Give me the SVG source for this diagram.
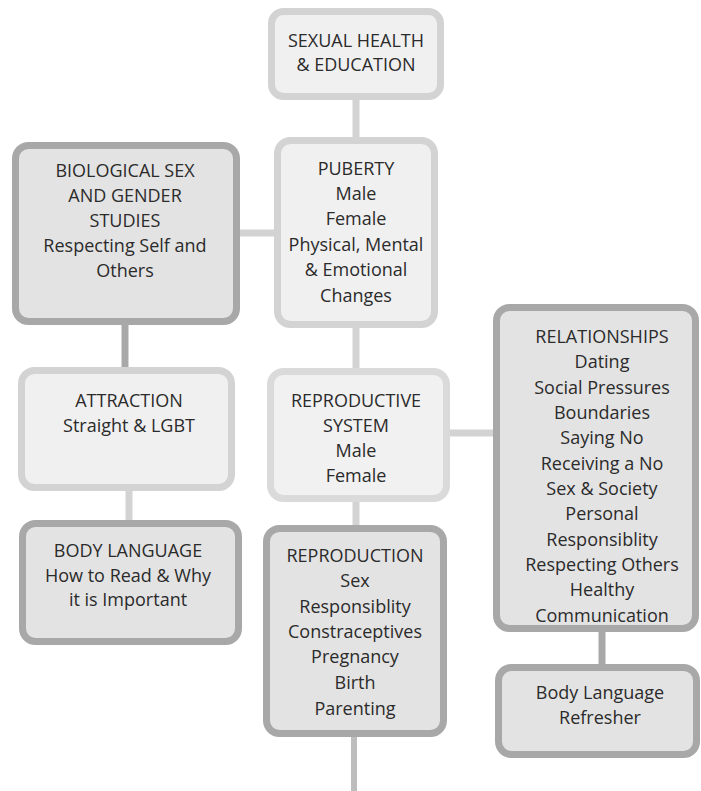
<svg xmlns="http://www.w3.org/2000/svg" width="701" height="791" viewBox="0 0 701 791">
<style>
.light{fill:#f0f0f0;stroke:#d3d3d3;stroke-width:7}
.lighter{fill:#f1f1f1;stroke:#dadada;stroke-width:7}
.dark{fill:#e3e3e3;stroke:#a8a8a8;stroke-width:7}
.cl{stroke:#d3d3d3;stroke-width:7;fill:none}
.cd{stroke:#a8a8a8;stroke-width:7;fill:none}
.cm{stroke:#bdbdbd;stroke-width:6;fill:none}
text{font-family:"Open Sans","Noto Sans","DejaVu Sans",sans-serif;font-size:18px;fill:#2b2b2b;text-anchor:middle}
</style>
<rect width="701" height="791" fill="#ffffff"/>
<g id="connectors">
<line class="cl" x1="356" y1="98" x2="356" y2="140"/>
<line class="cl" x1="238" y1="233" x2="277" y2="233"/>
<line class="cd" x1="125" y1="323" x2="125" y2="370"/>
<line class="cl" x1="356" y1="326" x2="356" y2="371"/>
<line class="cl" x1="129" y1="489" x2="129" y2="523"/>
<line class="cl" x1="356" y1="500" x2="356" y2="528"/>
<line class="cl" x1="448" y1="433" x2="496" y2="433"/>
<line class="cd" x1="602" y1="630" x2="602" y2="667"/>
<line class="cm" x1="354" y1="735" x2="354" y2="791"/>
</g>
<g id="n_top">
<rect class="light" x="271.5" y="11.5" width="169" height="85" rx="12"/>
<text x="356" y="47">SEXUAL HEALTH</text>
<text x="356" y="71">&amp; EDUCATION</text>
</g>
<g id="n_bio">
<rect class="dark" x="15.5" y="145.5" width="221" height="176" rx="13"/>
<text x="125" y="177">BIOLOGICAL SEX</text>
<text x="125" y="202">AND GENDER</text>
<text x="125" y="227">STUDIES</text>
<text x="125" y="252">Respecting Self and</text>
<text x="125" y="277">Others</text>
</g>
<g id="n_puberty">
<rect class="light" x="277.5" y="140.5" width="157" height="184" rx="13"/>
<text x="356" y="175">PUBERTY</text>
<text x="356" y="200">Male</text>
<text x="356" y="225">Female</text>
<text x="356" y="251">Physical, Mental</text>
<text x="356" y="276">&amp; Emotional</text>
<text x="356" y="302">Changes</text>
</g>
<g id="n_attraction">
<rect class="light" x="21.5" y="370.5" width="210" height="117" rx="13"/>
<text x="129" y="407">ATTRACTION</text>
<text x="129" y="432">Straight &amp; LGBT</text>
</g>
<g id="n_reprosys">
<rect class="lighter" x="270.5" y="371.5" width="176" height="127" rx="13"/>
<text x="356" y="407">REPRODUCTIVE</text>
<text x="356" y="432">SYSTEM</text>
<text x="356" y="457">Male</text>
<text x="356" y="482">Female</text>
</g>
<g id="n_relationships">
<rect class="dark" x="496.5" y="307.5" width="199" height="321" rx="13"/>
<text x="602" y="343">RELATIONSHIPS</text>
<text x="602" y="368">Dating</text>
<text x="602" y="394">Social Pressures</text>
<text x="602" y="419">Boundaries</text>
<text x="602" y="444">Saying No</text>
<text x="602" y="470">Receiving a No</text>
<text x="602" y="495">Sex &amp; Society</text>
<text x="602" y="520">Personal</text>
<text x="602" y="546">Responsiblity</text>
<text x="602" y="571">Respecting Others</text>
<text x="602" y="596">Healthy</text>
<text x="602" y="622">Communication</text>
</g>
<g id="n_bodylang">
<rect class="dark" x="22.5" y="523.5" width="216" height="118" rx="13"/>
<text x="128" y="557">BODY LANGUAGE</text>
<text x="128" y="582">How to Read &amp; Why</text>
<text x="128" y="606">it is Important</text>
</g>
<g id="n_reproduction">
<rect class="dark" x="266.5" y="528.5" width="177" height="205" rx="13"/>
<text x="355" y="562">REPRODUCTION</text>
<text x="355" y="587">Sex</text>
<text x="355" y="613">Responsiblity</text>
<text x="355" y="638">Constraceptives</text>
<text x="355" y="663">Pregnancy</text>
<text x="355" y="689">Birth</text>
<text x="355" y="715">Parenting</text>
</g>
<g id="n_refresher">
<rect class="dark" x="498.5" y="667.5" width="198" height="87" rx="13"/>
<text x="600" y="699">Body Language</text>
<text x="600" y="724">Refresher</text>
</g>
</svg>
